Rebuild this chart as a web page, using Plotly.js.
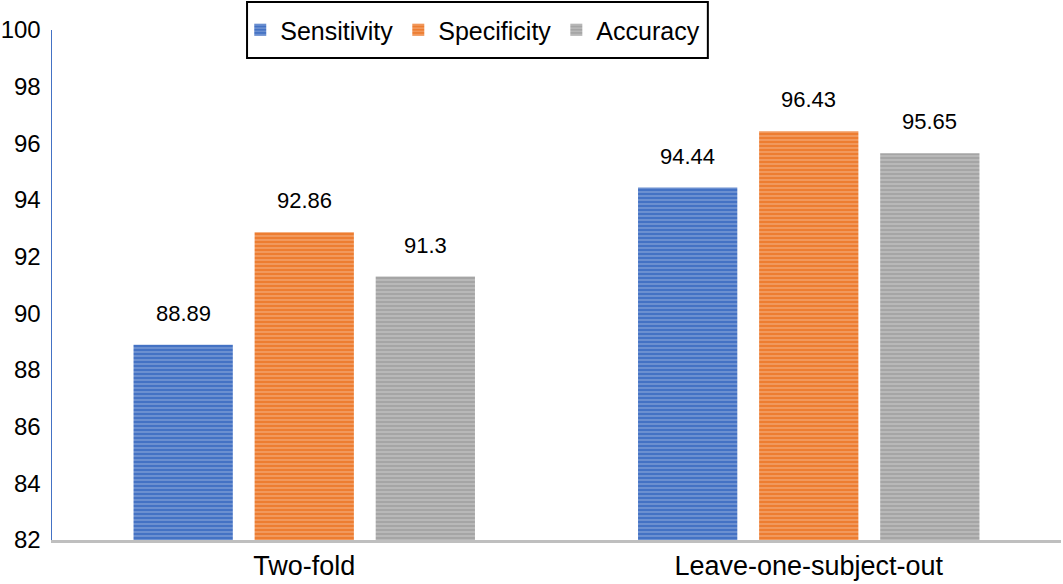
<!DOCTYPE html>
<html>
<head>
<meta charset="utf-8">
<script src="https://cdn.plot.ly/plotly-3.0.1.min.js"></script>
<style>html,body{margin:0;padding:0;background:#fff;}#chart{width:1063px;height:584px;}</style>
</head>
<body>
<div id="chart"></div>
<script>
const categories = ["Two-fold", "Leave-one-subject-out"];
const seriesNames = ["Sensitivity", "Specificity", "Accuracy"];
const sensitivity = [88.89, 94.44];
const specificity = [92.86, 96.43];
const accuracy = [91.3, 95.65];
const labelsSensitivity = ["88.89", "94.44"];
const labelsSpecificity = ["92.86", "96.43"];
const labelsAccuracy = ["91.3", "95.65"];
const yTicks = [82, 84, 86, 88, 90, 92, 94, 96, 98, 100];

const colors = ["#4472C4", "#ED7D31", "#A5A5A5"];
const allValues = [sensitivity, specificity, accuracy];
const allLabels = [labelsSensitivity, labelsSpecificity, labelsAccuracy];
const font = "Liberation Sans, Arial, Helvetica, sans-serif";

const traces = allValues.map((vals, i) => ({
  type: "bar",
  name: seriesNames[i],
  x: categories,
  y: vals,
  marker: {
    color: colors[i],
    line: {width: 0},
    pattern: {shape: "-", fgcolor: "rgba(255,255,255,0.7)", bgcolor: colors[i], size: 4, solidity: 0.3, fillmode: "overlay"}
  },
  hoverinfo: "skip"
}));

const slotPx = 121;
const annotations = [];
allValues.forEach((vals, i) => {
  vals.forEach((v, j) => {
    annotations.push({
      x: j, y: v, xref: "x", yref: "y",
      text: allLabels[i][j], showarrow: false,
      xshift: (i - 1) * slotPx, yshift: 17, yanchor: "bottom",
      font: {family: font, size: 22, color: "#000"}
    });
  });
});

const layout = {
  width: 1063, height: 584,
  margin: {l: 52, r: 2, t: 30, b: 44},
  paper_bgcolor: "#fff", plot_bgcolor: "#fff",
  barmode: "group", bargap: 0.28, bargroupgap: 0.18,
  font: {family: font, color: "#000"},
  showlegend: true,
  legend: {
    orientation: "h", x: 0.417, xanchor: "center", y: 1.0, yanchor: "middle",
    borderwidth: 0, bgcolor: "rgba(0,0,0,0)",
    font: {family: font, size: 25, color: "#000"},
    itemwidth: 30, tracegroupgap: 0
  },
  shapes: [{
    type: "rect", xref: "paper", yref: "paper", layer: "below",
    x0: 0.1933, x1: 0.650, y0: 0.945, y1: 1.055,
    line: {color: "#000", width: 2}, fillcolor: "#fff"
  }],
  xaxis: {
    type: "category",
    showline: true, linecolor: "#BFBFBF", linewidth: 3,
    showgrid: false, zeroline: false, ticks: "", ticklabelstandoff: 0,
    tickfont: {family: font, size: 27, color: "#000"}
  },
  yaxis: {
    range: [82, 100], tickvals: yTicks, ticktext: yTicks.map(String),
    showline: true, linecolor: "#4472C4", linewidth: 1.5,
    showgrid: false, zeroline: false, ticks: "", ticklabelstandoff: 5,
    tickfont: {family: font, size: 24, color: "#000"}
  },
  annotations: annotations
};

Plotly.newPlot("chart", traces, layout, {displayModeBar: false, staticPlot: true});
</script>
</body>
</html>
